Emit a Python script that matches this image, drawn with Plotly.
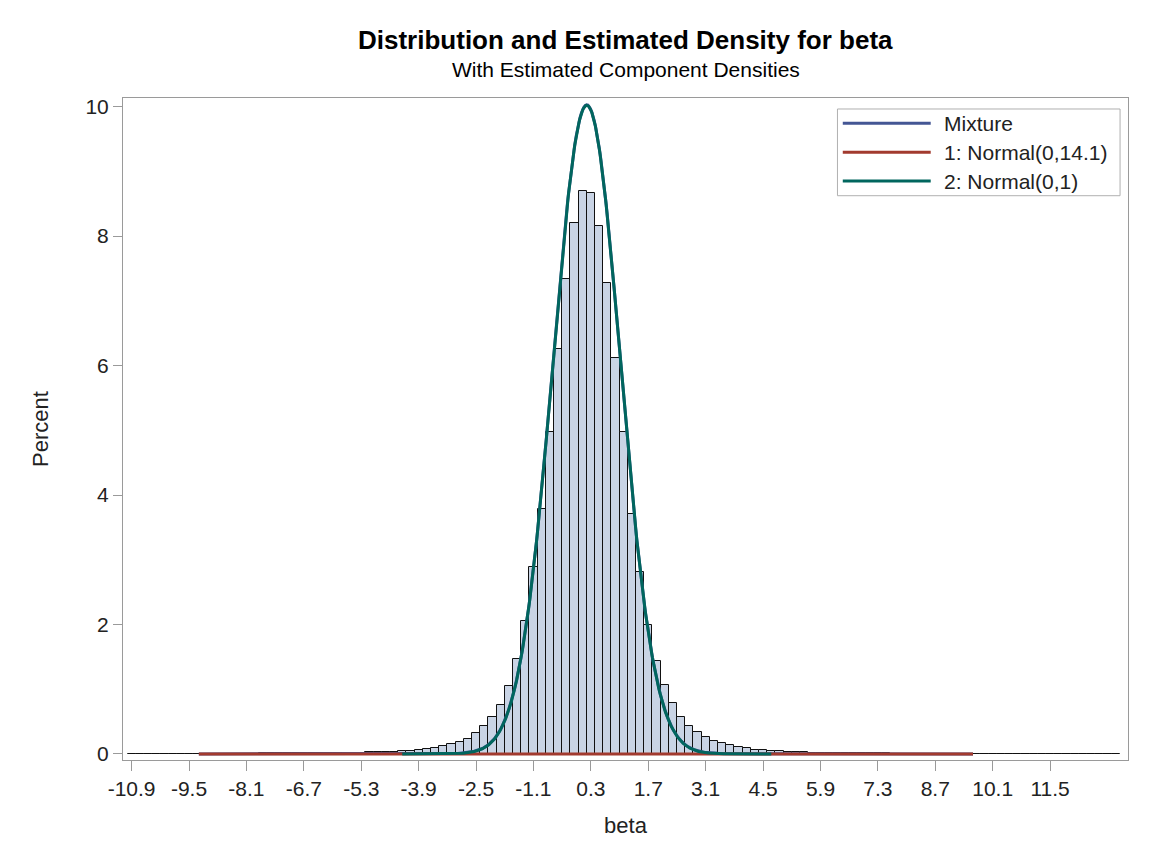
import numpy as np
import plotly.graph_objects as go

# Histogram of beta: bin width 0.2, midpoints from -10.9 to 13.1 (percent of draws)
bin_width = 0.2
first_mid = -10.9
percent = [
    0.003, 0.003, 0.004, 0.003, 0.004, 0.004, 0.005, 0.004, 0.005, 0.005,   # -10.9 .. -9.1
    0.005, 0.006, 0.006, 0.006, 0.007, 0.007, 0.008, 0.008, 0.009, 0.009,   # -8.9 .. -7.1
    0.010, 0.011, 0.012, 0.013, 0.014, 0.016, 0.018, 0.020, 0.022, 0.025,   # -6.9 .. -5.1
    0.029, 0.033, 0.038, 0.045, 0.052, 0.060, 0.070, 0.088, 0.123, 0.150,   # -4.9 .. -3.1
    0.190, 0.231, 0.319, 0.432, 0.566, 0.756, 1.050, 1.460, 2.050, 2.890,   # -2.9 .. -1.1
    3.790, 4.980, 6.260, 7.340, 8.210, 8.690, 8.670, 8.150, 7.270, 6.120,   # -0.9 .. 0.9
    4.980, 3.700, 2.810, 1.990, 1.435, 1.065, 0.780, 0.576, 0.437, 0.335,   # 1.1 .. 2.9
    0.267, 0.200, 0.165, 0.139, 0.113, 0.088, 0.062, 0.055, 0.047, 0.040,   # 3.1 .. 4.9
    0.034, 0.029, 0.025, 0.021, 0.018, 0.016, 0.014, 0.012, 0.011, 0.010,   # 5.1 .. 6.9
    0.009, 0.009, 0.008, 0.007, 0.007, 0.006, 0.006, 0.006, 0.005, 0.005,   # 7.1 .. 8.9
    0.005, 0.005, 0.004, 0.004, 0.004, 0.004, 0.003, 0.003, 0.003, 0.003,   # 9.1 .. 10.9
    0.003, 0.003, 0.003, 0.002, 0.002, 0.002, 0.002, 0.002, 0.002, 0.002,   # 11.1 .. 12.9
    0.002,                                                                  # 13.1
]
bin_mid = np.round(first_mid + bin_width * np.arange(len(percent)), 1)

# Mixture components (mean, sd, weight) and the range each curve is drawn over
comp_wide = dict(mean=0.2, sd=3.755, weight=0.003, lo=-9.26, hi=9.62)
comp_narrow = dict(mean=0.2, sd=0.82, weight=1.03, lo=-4.3, hi=4.7)

legend_labels = ["Mixture", "1: Normal(0,14.1)", "2: Normal(0,1)"]
x_tickvals = [-10.9, -9.5, -8.1, -6.7, -5.3, -3.9, -2.5, -1.1, 0.3, 1.7,
              3.1, 4.5, 5.9, 7.3, 8.7, 10.1, 11.5]
y_tickvals = [0, 2, 4, 6, 8, 10]

COL_MIX = "#445694"
COL_WIDE = "#A23A2E"
COL_NARROW = "#01665E"
BAR_FILL = "#C9D4E5"
FRAME = "#9A9A9A"
FONT = "Liberation Sans, Arial, sans-serif"

scale = 100 * bin_width  # density -> percent per bin


def comp_curve(c, x):
    z = (x - c["mean"]) / c["sd"]
    return scale * c["weight"] * np.exp(-0.5 * z * z) / (c["sd"] * np.sqrt(2 * np.pi))


x_wide = np.linspace(comp_wide["lo"], comp_wide["hi"], 600)
x_narrow = np.linspace(comp_narrow["lo"], comp_narrow["hi"], 600)
y_mix = comp_curve(comp_wide, x_wide) + comp_curve(comp_narrow, x_wide)

fig = go.Figure()
fig.add_trace(go.Bar(
    x=bin_mid, y=percent, width=bin_width,
    marker=dict(color=BAR_FILL, line=dict(color="#111111", width=1)),
    showlegend=False, name="beta",
))
fig.add_trace(go.Scatter(x=x_wide, y=y_mix, mode="lines",
                         line=dict(color=COL_MIX, width=3), name=legend_labels[0],
                         showlegend=False))
fig.add_trace(go.Scatter(x=x_wide, y=comp_curve(comp_wide, x_wide), mode="lines",
                         line=dict(color=COL_WIDE, width=3), name=legend_labels[1],
                         showlegend=False))
fig.add_trace(go.Scatter(x=x_narrow, y=comp_curve(comp_narrow, x_narrow), mode="lines",
                         line=dict(color=COL_NARROW, width=3), name=legend_labels[2],
                         showlegend=False))

# Legend box drawn in paper coordinates
shapes = [dict(type="rect", xref="paper", yref="paper", x0=0.7109, x1=0.9921,
               y0=0.8524, y1=0.9834, line=dict(color="#B0B0B0", width=1),
               fillcolor="white")]
annotations = []
legend_rows = [0.9618, 0.9180, 0.8746]
for label, col, yy in zip(legend_labels, [COL_MIX, COL_WIDE, COL_NARROW], legend_rows):
    shapes.append(dict(type="line", xref="paper", yref="paper", x0=0.7162, x1=0.8037,
                       y0=yy, y1=yy, line=dict(color=col, width=3)))
    annotations.append(dict(text=label, xref="paper", yref="paper", x=0.8147, y=yy,
                            xanchor="left", yanchor="middle", showarrow=False,
                            font=dict(size=21, color="#222222", family=FONT)))

annotations += [
    dict(text="<b>Distribution and Estimated Density for beta</b>", xref="paper", yref="paper",
         x=0.5, y=1.0876, xanchor="center", yanchor="middle", showarrow=False,
         font=dict(size=26, color="#000000", family=FONT)),
    dict(text="With Estimated Component Densities", xref="paper", yref="paper",
         x=0.5, y=1.0423, xanchor="center", yanchor="middle", showarrow=False,
         font=dict(size=21, color="#000000", family=FONT)),
]

fig.update_layout(
    width=1155, height=865, autosize=False,
    margin=dict(l=123, r=27, t=98, b=105),
    plot_bgcolor="white", paper_bgcolor="white",
    bargap=0,
    font=dict(family=FONT, size=21, color="#222222"),
    shapes=shapes, annotations=annotations,
    xaxis=dict(
        range=[-11.11, 13.40], tickvals=x_tickvals,
        ticktext=[f"{v:.1f}" for v in x_tickvals],
        ticks="outside", ticklen=10, tickcolor=FRAME, tickwidth=1,
        showline=True, linecolor=FRAME, linewidth=1, mirror=True,
        showgrid=False, zeroline=False,
        tickfont=dict(size=21, family=FONT, color="#222222"),
        title=dict(text="beta", font=dict(size=22, family=FONT, color="#222222"), standoff=18),
    ),
    yaxis=dict(
        range=[-0.093, 10.134], tickvals=y_tickvals,
        ticks="outside", ticklen=9, tickcolor=FRAME, tickwidth=1,
        showline=True, linecolor=FRAME, linewidth=1, mirror=True,
        showgrid=False, zeroline=False,
        tickfont=dict(size=21, family=FONT, color="#222222"),
        title=dict(text="Percent", font=dict(size=22, family=FONT, color="#222222"), standoff=30),
    ),
)

fig.write_html("out.html")
